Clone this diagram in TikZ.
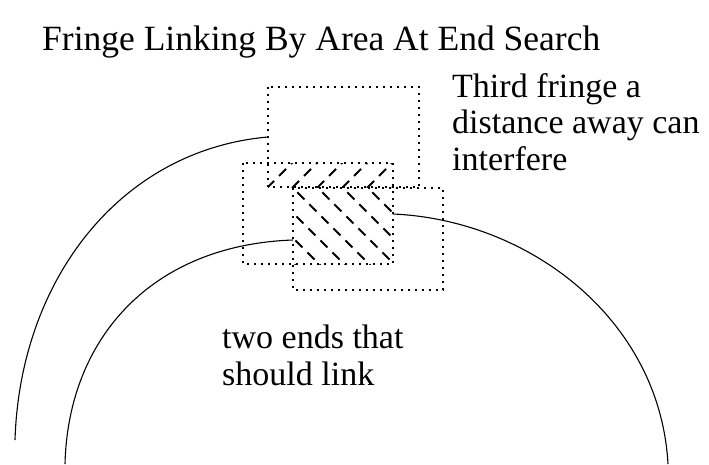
\documentclass[tikz,border=0pt]{standalone}
\usepackage{fontspec}
\setmainfont{Liberation Serif}
\begin{document}
\begin{tikzpicture}[x=1pt,y=-1pt,
  fringebox/.style={line width=1.8pt, dash pattern=on 1.8pt off 5.2pt},
  hatchline/.style={line width=2.1pt, dash pattern=on 10pt off 7pt},
  fringe/.style={line width=1.1pt},
  lbl/.style={font=\fontsize{34}{36.5}\selectfont, align=left, inner sep=0pt}]
\useasboundingbox (0,0) rectangle (709,464);
% boxes
\coordinate (t1) at (268,87);  \coordinate (t2) at (419,187);
\coordinate (l1) at (243,163); \coordinate (l2) at (393,264);
\coordinate (r1) at (293,188); \coordinate (r2) at (443,290);
\draw[fringebox] (t1) rectangle (t2);
\draw[fringebox] (l1) rectangle (l2);
\draw[fringebox] (r1) rectangle (r2);
% hatching of overlaps
\begin{scope}
\clip (r1) rectangle (l2);
\foreach \k in {-6,...,6}
  \draw[hatchline] ({105+25*\k},0) -- ({105+25*\k+400},400);
\end{scope}
\begin{scope}
\clip (268,163) rectangle (393,187);
\foreach \k in {-3,...,6}
  \draw[hatchline] ({455+25*\k-200},200) -- ({455+25*\k},0);
\end{scope}
% fringes
\coordinate (oa) at (268,137); \coordinate (ob) at (15,440);
\coordinate (ia) at (293,240); \coordinate (ib) at (65,464);
\coordinate (ja) at (393,214); \coordinate (jb) at (668,464);
\draw[fringe] (oa) .. controls (120,150) and (20,280) .. (ob);
\draw[fringe] (ia) .. controls (150,245) and (68,340) .. (ib);
\draw[fringe] (ja) .. controls (530,220) and (660,320) .. (jb);
% text
\node[lbl, font=\fontsize{35.5}{38}\selectfont, anchor=base west] (title) at (42,50) {Fringe Linking By Area At End Search};
\node[lbl, anchor=base west] (third) at (452,170) {Third fringe a\\distance away can\\interfere};
\node[lbl, anchor=base west] (two) at (222,385) {two ends that\\should link};
\end{tikzpicture}
\end{document}
